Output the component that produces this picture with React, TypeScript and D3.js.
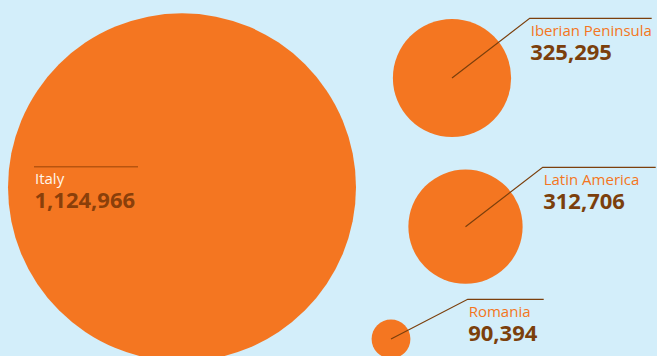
import React from "react";
import * as d3 from "d3";

const categories = ["Italy", "Iberian Peninsula", "Latin America", "Romania"];
const values = [1124966, 325295, 312706, 90394];

// layout (not data): circle centres and label elbows
const W = 657;
const H = 356;
const centers: [number, number][] = [
  [182, 187.3],
  [452, 78],
  [465.5, 226.7],
  [391, 339],
];
const elbows: [number, number, number][] = [
  [34, 166.7, 104],
  [529.7, 18.3, 122],
  [542.7, 167.3, 113],
  [467.7, 299.3, 76],
];

const BG = "#D3EEFA";
const ORANGE = "#F47621";
const BROWN = "#7B3F0C";
const FONT = "'Open Sans', 'Noto Sans', sans-serif";

export default function App() {
  const r = d3
    .scalePow()
    .exponent(0.87)
    .domain([0, d3.max(values) as number])
    .range([0, 174]);
  const fmt = d3.format(",");

  return (
    <svg
      width={W}
      height={H}
      style={{ position: "absolute", left: 0, top: 0, display: "block" }}
      fontFamily={FONT}
    >
      <rect x={0} y={0} width={W} height={H} fill={BG} />
      {values.map((v, i) => (
        <circle key={"c" + i} cx={centers[i][0]} cy={centers[i][1]} r={r(v)} fill={ORANGE} />
      ))}
      {categories.map((c, i) => {
        const [ex, ey, len] = elbows[i];
        const inside = i === 0;
        const path = inside
          ? `M${ex},${ey}H${ex + len}`
          : `M${centers[i][0]},${centers[i][1]}L${ex},${ey}H${ex + len}`;
        return (
          <g key={"l" + i}>
            <path
              d={path}
              fill="none"
              stroke={inside ? "#B8540F" : BROWN}
              strokeWidth={inside ? 1.5 : 1.2}
            />
            <text
              x={ex + 1}
              y={ey + 17.5}
              fontSize={15}
              fontWeight={500}
              fill={inside ? "#FFF6EC" : ORANGE}
            >
              {c}
            </text>
            <text
              x={ex + 0.5}
              y={ey + 41.5}
              fontSize={22}
              fontWeight={700}
              fill={inside ? "#8A3F0A" : BROWN}
            >
              {fmt(values[i])}
            </text>
          </g>
        );
      })}
    </svg>
  );
}
